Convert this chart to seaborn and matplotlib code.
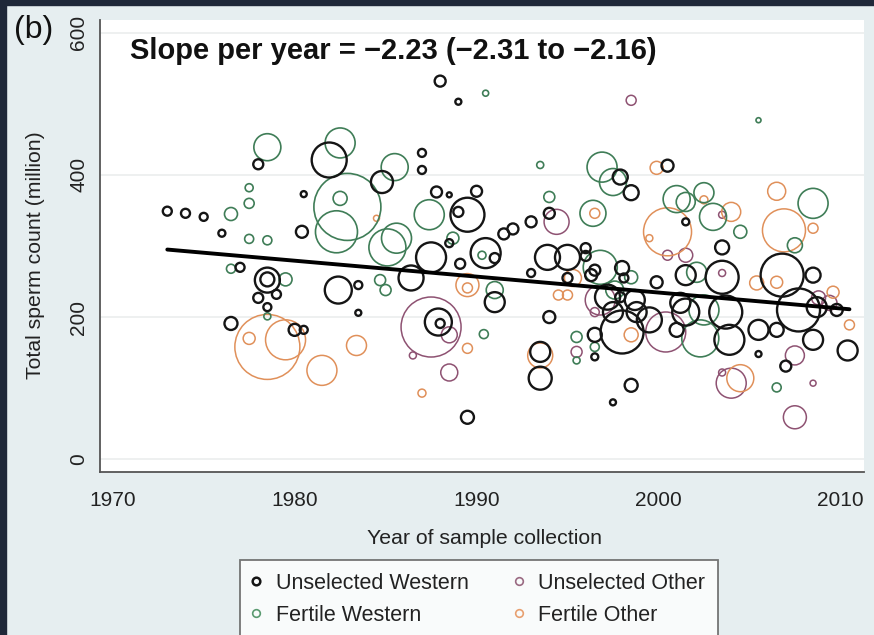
import matplotlib
matplotlib.use("Agg")
import matplotlib.pyplot as plt
from matplotlib.lines import Line2D
from matplotlib.patches import Rectangle
import seaborn as sns
import pandas as pd

# Unselected Western
uw_year = [1973.0, 1974.0, 1975.0, 1976.0, 1978.0, 1977.0, 1978.5, 1978.5, 1978.0, 1979.0,
           1978.5, 1976.5, 1980.0, 1980.5, 1982.4, 1983.5, 1980.4, 1980.5, 1981.9, 1984.8,
           1987.0, 1987.0, 1986.4, 1983.5, 1987.5, 1987.8, 1988.5, 1990.0, 1989.5, 1989.0,
           1988.0, 1989.0, 1987.9, 1988.0, 1989.5, 1988.5, 1990.5, 1991.0, 1989.1, 1991.0,
           1991.5, 1992.0, 1993.0, 1994.0, 1997.9, 1998.5, 2000.5, 2001.5, 2003.5, 1993.9,
           1995.0, 1996.0, 1996.0, 1996.5, 1995.0, 1993.0, 1994.0, 1993.5, 1993.5, 1996.5,
           1996.5, 1998.1, 1996.3, 1997.5, 1997.9, 1998.0, 1998.8, 1998.5, 1997.5, 1998.0,
           1999.9, 2003.5, 2001.5, 2006.8, 2008.5, 2007.7, 2008.7, 2009.8, 2010.4, 2008.5,
           2006.5, 2005.5, 2003.7, 2003.9, 2001.5, 2001.0, 2005.5, 2007.0, 2001.2, 1999.5,
           1997.2, 1998.7]
uw_count = [349, 346, 341, 318, 415, 270, 252, 253, 227, 232,
            214, 191, 182, 182, 238, 206, 320, 373, 421, 390,
            431, 407, 255, 245, 284, 376, 372, 377, 344, 348,
            532, 503, 193, 191, 59, 304, 290, 283, 275, 221,
            317, 324, 334, 346, 397, 375, 413, 334, 298, 284,
            284, 297, 286, 266, 255, 262, 200, 151, 114, 175,
            144, 255, 259, 207, 228, 179, 207, 104, 80, 269,
            249, 256, 259, 259, 259, 210, 214, 210, 153, 168,
            182, 182, 207, 168, 207, 182, 148, 131, 220, 196,
            228, 224]
uw_size = [9, 9, 8, 7, 10, 9, 25, 14, 10, 9,
           8, 13, 12, 8, 27, 6, 12, 6, 35, 22,
           8, 8, 25, 8, 30, 11, 5, 11, 34, 10,
           11, 6, 27, 9, 13, 8, 30, 10, 10, 20,
           11, 11, 11, 11, 15, 15, 12, 7, 14, 25,
           25, 10, 10, 11, 10, 8, 12, 20, 23, 14,
           7, 9, 12, 20, 10, 43, 20, 13, 6, 14,
           12, 33, 20, 43, 15, 43, 20, 12, 20, 20,
           14, 20, 33, 30, 27, 14, 6, 11, 20, 25,
           25, 20]

# Fertile Western
fw_year = [1976.5, 1977.5, 1977.5, 1977.5, 1978.5, 1978.5, 1976.5, 1979.5, 1978.5, 1982.5,
           1982.5, 1982.9, 1982.3, 1985.5, 1985.1, 1984.7, 1985.0, 1987.4, 1990.5, 1990.4,
           1988.7, 1990.3, 1991.0, 1985.6, 1994.0, 1993.5, 1996.4, 1996.9, 1997.5, 2001.0,
           2001.5, 2002.5, 2003.0, 2004.5, 2008.5, 2007.5, 2005.5, 1995.5, 1995.5, 1996.5,
           1996.8, 1998.5, 2002.1, 2002.3, 2006.5, 2002.5, 1997.6]
fw_count = [345, 382, 360, 310, 308, 439, 268, 253, 201, 445,
            367, 355, 320, 411, 298, 252, 238, 344, 515, 176,
            311, 287, 238, 311, 369, 414, 346, 411, 390, 366,
            362, 375, 341, 320, 360, 301, 477, 172, 139, 158,
            270, 256, 263, 170, 101, 210, 238]
fw_size = [13, 8, 10, 9, 9, 27, 9, 13, 7, 30,
           14, 67, 42, 27, 37, 11, 11, 30, 6, 9,
           12, 8, 17, 30, 11, 7, 26, 30, 27, 27,
           19, 20, 27, 13, 30, 15, 5, 11, 7, 9,
           34, 13, 20, 37, 9, 30, 18]

# Unselected Other
uo_year = [1987.5, 1988.5, 1986.5, 1988.5, 1994.4, 1998.5, 2003.5, 1995.5, 1996.5, 2000.5,
           2001.5, 2003.5, 2009.4, 2000.4, 2007.5, 2004.0, 2003.5, 2008.5, 2007.5, 2008.8,
           1996.8]
uo_count = [186, 175, 146, 122, 334, 505, 344, 151, 207, 287,
            287, 262, 220, 179, 146, 107, 122, 107, 59, 227,
            224]
uo_size = [60, 16, 7, 17, 25, 10, 7, 11, 9, 10,
           14, 7, 15, 40, 19, 30, 7, 6, 23, 14,
           30]

# Fertile Other
fo_year = [1978.5, 1977.5, 1979.5, 1981.5, 1983.4, 1984.5, 1989.5, 1987.0, 1989.5, 1989.5,
           1996.5, 1999.9, 2002.5, 2004.0, 2006.5, 2008.5, 2006.9, 2000.5, 1999.5, 1994.5,
           1995.0, 1993.5, 1995.3, 1998.5, 2006.5, 2005.4, 2009.6, 2010.5, 2004.5]
fo_count = [158, 170, 168, 125, 160, 339, 156, 93, 245, 241,
            346, 410, 365, 348, 377, 325, 322, 320, 311, 231,
            231, 146, 255, 175, 249, 248, 235, 189, 114]
fo_size = [65, 12, 40, 30, 20, 6, 10, 8, 23, 10,
           10, 13, 8, 19, 18, 10, 43, 48, 7, 10,
           10, 25, 17, 14, 12, 14, 12, 10, 27]

# fitted line
fit_year = [1973.0, 2010.5]
fit_count = [295, 211]

groups = {
    "Unselected Other": (uo_year, uo_count, uo_size, "#8e5272", 1.1),
    "Fertile Other": (fo_year, fo_count, fo_size, "#e0905a", 1.1),
    "Fertile Western": (fw_year, fw_count, fw_size, "#3f7d57", 1.2),
    "Unselected Western": (uw_year, uw_count, uw_size, "#151515", 1.7),
}

sns.set_style("white")
plt.rcParams["font.family"] = ["Liberation Sans", "DejaVu Sans"]

fig = plt.figure(figsize=(8.74, 6.35), dpi=100)
fig.patch.set_facecolor("#e6eef0")
ax = fig.add_axes([100 / 874, 163 / 635, 764 / 874, 452 / 635])
ax.set_facecolor("white")

AREA_MAX = 4500
for name, (yr, ct, sz, col, lw) in groups.items():
    df = pd.DataFrame({"year": yr, "count": ct, "area": [s ** 2 for s in sz]})
    sns.scatterplot(data=df, x="year", y="count", size="area",
                    sizes=(0, AREA_MAX * 0.5184), size_norm=(0, AREA_MAX),
                    facecolor="none", edgecolor=col, linewidth=lw,
                    legend=False, ax=ax, zorder=3)

sns.lineplot(x=fit_year, y=fit_count, color="black", lw=2.8, ax=ax, zorder=5)

ax.set_xlim(1969.3, 2011.3)
ax.set_ylim(-18, 618)
ax.set_xticks([1970, 1980, 1990, 2000, 2010])
ax.set_yticks([0, 200, 400, 600])
ax.yaxis.grid(True, color="#ebeeee", lw=1.2)
ax.set_axisbelow(True)
for s in ["top", "right"]:
    ax.spines[s].set_visible(False)
for s in ["left", "bottom"]:
    ax.spines[s].set_color("#555555")
    ax.spines[s].set_linewidth(1.3)
ax.tick_params(axis="both", direction="out", length=6.5, width=1.2, color="#555555",
               labelsize=15, labelcolor="#222222")
ax.tick_params(axis="x", pad=7)
ax.tick_params(axis="y", pad=2)
for lab in ax.get_yticklabels():
    lab.set_rotation(90)
    lab.set_va("center")

ax.set_xlabel("Year of sample collection", fontsize=15.3, color="#222222")
ax.set_ylabel("Total sperm count (million)", fontsize=15.3, color="#222222")
ax.xaxis.set_label_coords(0.503, -0.125)
ax.yaxis.set_label_coords(-0.072, 0.48)

fig.text(130 / 874, 1 - 51 / 635, "Slope per year = \u22122.23 (\u22122.31 to \u22122.16)",
         fontsize=21, fontweight="bold", va="center", color="#111111")
fig.text(14 / 874, 1 - 30 / 635, "(b)", fontsize=23, va="center", color="#111111")

handles = [
    Line2D([], [], marker="o", ls="none", mfc="none", mec="#151515", mew=1.8, ms=5.5),
    Line2D([], [], marker="o", ls="none", mfc="none", mec="#5a9a70", mew=1.2, ms=5.5),
    Line2D([], [], marker="o", ls="none", mfc="none", mec="#9a6a82", mew=1.2, ms=5.5),
    Line2D([], [], marker="o", ls="none", mfc="none", mec="#e8a070", mew=1.2, ms=5.5),
]
labels = ["Unselected Western", "Fertile Western", "Unselected Other", "Fertile Other"]
leg = fig.legend(handles, labels, ncol=2, loc="upper left",
                 bbox_to_anchor=(240 / 874, 1 - 560 / 635), fontsize=15.5,
                 frameon=True, fancybox=False, edgecolor="#555555", facecolor="white",
                 handlelength=0.3, handletextpad=0.75, columnspacing=2.2,
                 labelspacing=0.5, borderpad=0.6, borderaxespad=0)
leg.get_frame().set_linewidth(1.3)
for t in leg.get_texts():
    t.set_color("#222222")

# dark strips of the screenshot frame
fig.add_artist(Rectangle((0, 1 - 5 / 635), 1, 5 / 635, transform=fig.transFigure,
                         color="#1f2839", zorder=10))
fig.add_artist(Rectangle((0, 0), 6 / 874, 1, transform=fig.transFigure,
                         color="#1f2839", zorder=10))

fig.savefig("out.png", dpi=100, facecolor=fig.get_facecolor())
